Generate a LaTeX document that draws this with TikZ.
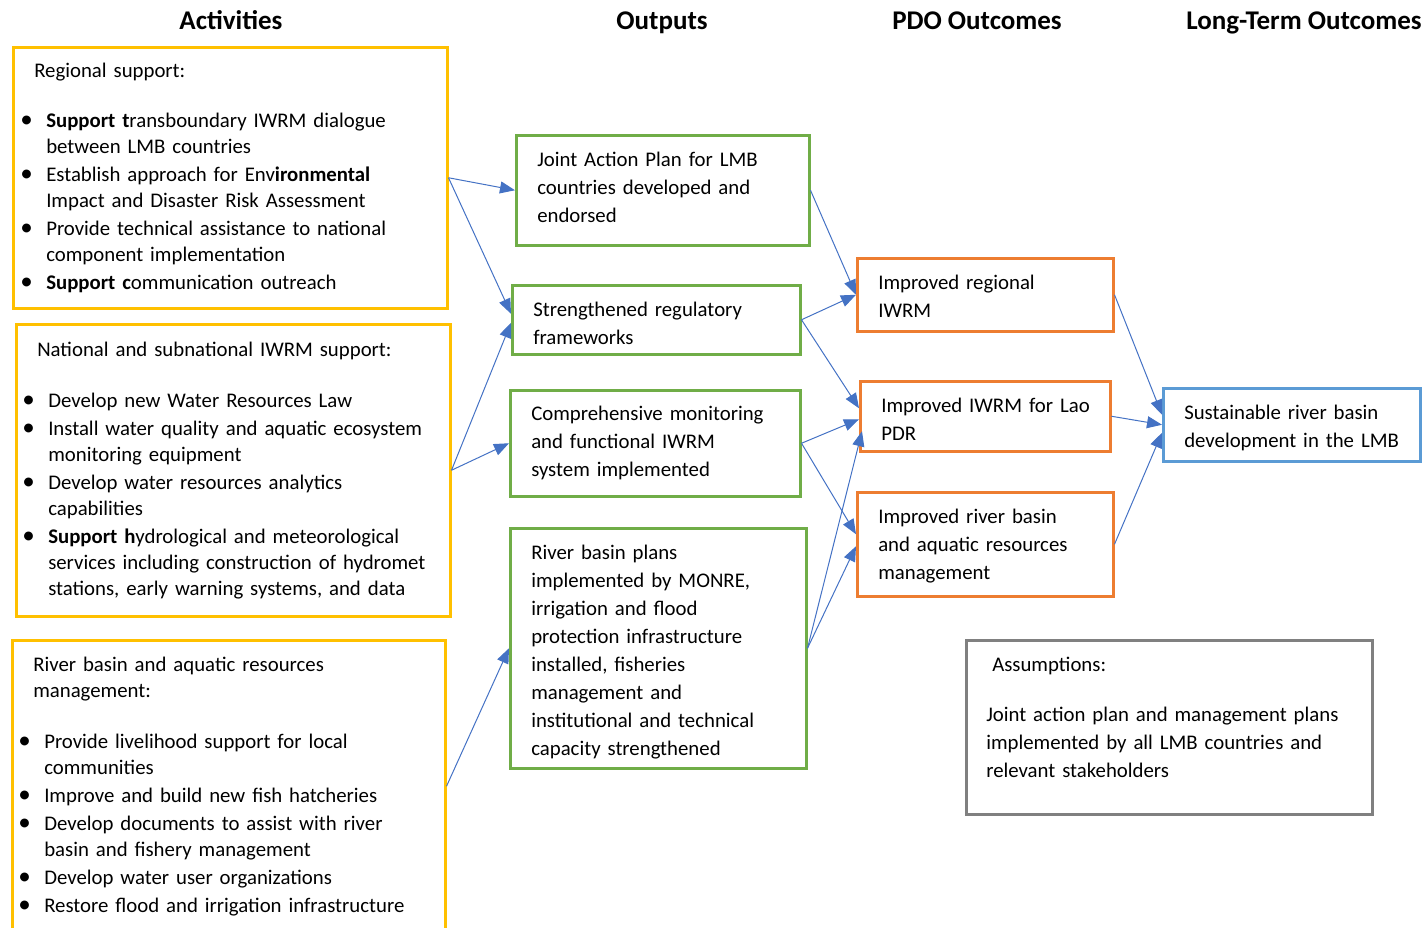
\documentclass[tikz,border=0pt]{standalone}
\usepackage{fontspec}
\setmainfont{Carlito}
\usetikzlibrary{arrows.meta}
\definecolor{actyellow}{HTML}{FFC000}
\definecolor{outgreen}{HTML}{70AD47}
\definecolor{pdoorange}{HTML}{ED7D31}
\definecolor{ltblue}{HTML}{5B9BD5}
\definecolor{asmgray}{HTML}{808080}
\definecolor{flowblue}{HTML}{4472C4}
% bullet item with hanging indent
\newcommand{\bitem}[1]{\par\hangindent=18pt\hangafter=1\noindent
  \makebox[18pt][l]{\hspace*{-8pt}\raisebox{-0.5pt}{\fontsize{25}{26}\selectfont\textbullet}}#1\par}
% empty strip to move box text up or down
\newcommand{\gap}[1]{\par\nointerlineskip\vbox to #1{}\par\nointerlineskip}
\begin{document}
\begin{tikzpicture}[x=1pt,y=-1pt,
  colhead/.style={anchor=base, font=\fontsize{27}{30}\selectfont\bfseries},
  actbox/.style={draw=actyellow, line width=2.5pt, anchor=north west, align=left, inner ysep=0pt,
    font=\fontsize{20.8}{26}\selectfont\setlength{\parskip}{2pt}},
  outbox/.style={draw=outgreen, line width=2.5pt, anchor=north west, align=left, inner xsep=21pt, inner ysep=0pt,
    font=\fontsize{20.8}{28}\selectfont},
  pdobox/.style={outbox, draw=pdoorange},
  ltbox/.style={outbox, draw=ltblue},
  flow/.style={draw=flowblue, line width=1pt, -{Triangle[length=15pt,width=12pt]}}]
\useasboundingbox (0,0) rectangle (1427,927);

% column headings
\node[colhead] (hact) at (231,29) {Activities};
\node[colhead] (hout) at (662,29) {Outputs};
\node[colhead] (hpdo) at (977,29) {PDO Outcomes};
\node[colhead] (hlt) at (1304,29) {Long-Term Outcomes};

% activities
\node[actbox, minimum width=434, minimum height=261, inner xsep=15pt, text width=404pt] (reg) at (12,46) {%
\hspace*{6pt}Regional support:\par\vspace{22pt}
\bitem{\textbf{Support t}ransboundary IWRM dialogue\newline between LMB countries}
\bitem{Establish approach for Env\textbf{ironmental}\newline Impact and Disaster Risk Assessment}
\bitem{Provide technical assistance to national\newline component implementation}
\bitem{\textbf{Support c}ommunication outreach}};
\node[actbox, minimum width=434, minimum height=292, inner xsep=14pt, text width=406pt] (nat) at (15,323) {%
\hspace*{7pt}National and subnational IWRM support:\par\vspace{23pt}
\bitem{Develop new Water Resources Law}
\bitem{Install water quality and aquatic ecosystem\newline monitoring equipment}
\bitem{Develop water resources analytics\newline capabilities}
\bitem{\textbf{Support h}ydrological and meteorological\newline services including construction of hydromet\newline stations, early warning systems, and data}};
\node[actbox, minimum width=433, minimum height=292, inner xsep=14pt, text width=405pt] (rba) at (11,639) {%
\hspace*{7pt}River basin and aquatic resources\newline\hspace*{7pt}management:\par\vspace{23pt}
\bitem{Provide livelihood support for local\newline communities}
\bitem{Improve and build new fish hatcheries}
\bitem{Develop documents to assist with river\newline basin and fishery management}
\bitem{Develop water user organizations}
\bitem{Restore flood and irrigation infrastructure}};

% outputs
\node[outbox, minimum width=293, minimum height=110, text width=251pt] (jap) at (515,134) {Joint Action Plan for LMB\\countries developed and\\endorsed\gap{6pt}};
\node[outbox, minimum width=288, minimum height=69, text width=246pt] (str) at (511,284) {\gap{8pt}Strengthened regulatory\\frameworks};
\node[outbox, minimum width=290, minimum height=106, text width=248pt] (cmp) at (509,389) {Comprehensive monitoring\\and functional IWRM\\system implemented};
\node[outbox, minimum width=296, minimum height=240, text width=254pt] (rbp) at (509,527) {\gap{8pt}River basin plans\\implemented by MONRE,\\irrigation and flood\\protection infrastructure\\installed, fisheries\\management and\\institutional and technical\\capacity strengthened};

% PDO outcomes
\node[pdobox, minimum width=256, minimum height=73, text width=214pt] (ireg) at (856,257) {\gap{4pt}Improved regional\\IWRM};
\node[pdobox, minimum width=250, minimum height=70, text width=208pt] (lao) at (859,380) {\gap{6pt}Improved~IWRM~for~Lao\\PDR};
\node[pdobox, minimum width=256, minimum height=104, text width=214pt] (irb) at (856,491) {\gap{4pt}Improved river basin\\and aquatic resources\\management};

% long-term outcome and assumptions
\node[ltbox, minimum width=257, minimum height=73, text width=215pt] (sus) at (1162,387) {\gap{6pt}Sustainable river basin\\development~in~the~LMB};
\node[outbox, draw=asmgray, minimum width=406, minimum height=174, inner xsep=20pt, text width=366pt] (asm) at (965,639) {%
\hspace*{6pt}Assumptions:\par\vspace{22pt}
Joint action plan and management plans\\implemented by all LMB countries and\\relevant stakeholders\gap{20pt}};

% links
\draw[flow] (reg.east) -- (jap.west);
\draw[flow] (reg.east) -- ([yshift=6pt]str.west);
\draw[flow] (nat.east) -- ([yshift=-3pt]str.west);
\draw[flow] (nat.east) -- (cmp.west);
\draw[flow] (rba.east) -- (rbp.west);
\draw[flow] (jap.east) -- (ireg.west);
\draw[flow] (str.east) -- (ireg.west);
\draw[flow] (str.east) -- ([yshift=8pt]lao.west);
\draw[flow] (cmp.east) -- ([yshift=-3pt]lao.west);
\draw[flow] (cmp.east) -- ([yshift=10pt]irb.west);
\draw[flow] (rbp.east) -- ([xshift=3pt,yshift=-15pt]lao.west);
\draw[flow] (rbp.east) -- ([yshift=-2pt]irb.west);
\draw[flow] (ireg.east) -- ([yshift=10pt]sus.west);
\draw[flow] (lao.east) -- (sus.west);
\draw[flow] (irb.east) -- ([yshift=-8pt]sus.west);
\end{tikzpicture}
\end{document}
